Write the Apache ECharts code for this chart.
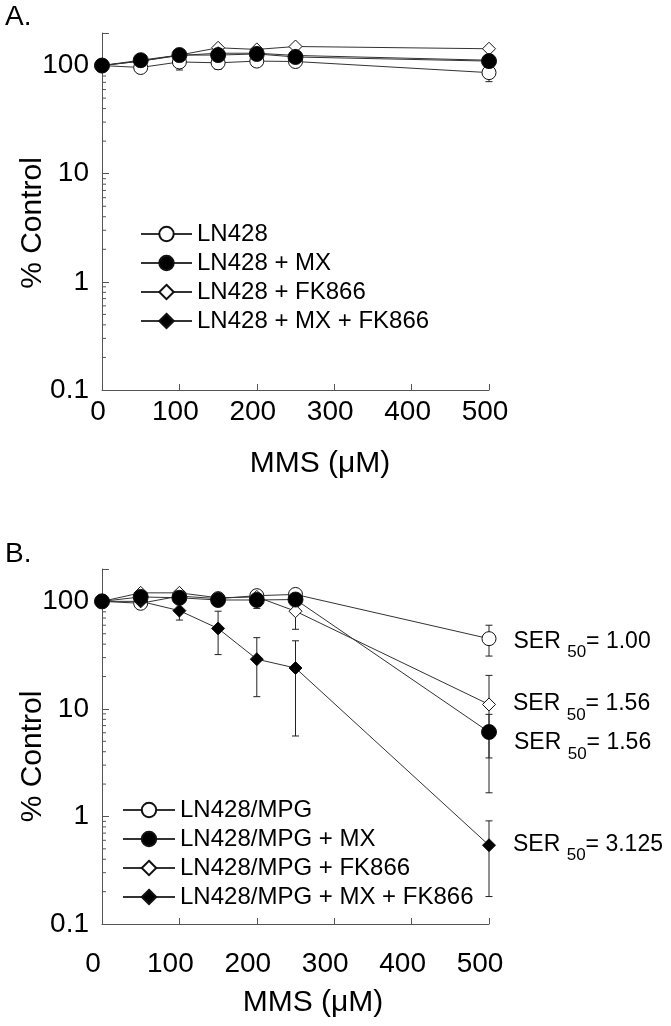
<!DOCTYPE html>
<html><head><meta charset="utf-8">
<script src="https://cdn.jsdelivr.net/npm/echarts@6/dist/echarts.min.js"></script>
<style>html,body{margin:0;padding:0;background:#fff}#c{width:671px;height:1026px}</style>
</head><body><div id="c"></div>
<script>
// ---------- data ----------
const doses = [0, 50, 100, 150, 200, 250, 500];
const xTicks = [0, 100, 200, 300, 400, 500];
const yTickLabels = [0.1, 1, 10, 100];
const xTitle = 'MMS (\u03bcM)';
const yTitle = '% Control';

const namesA = ['LN428', 'LN428 + MX', 'LN428 + FK866', 'LN428 + MX + FK866'];
const a_ln428 = [100, 96, 108, 106, 110, 109, 86];
const a_mx    = [100, 112, 125, 125, 128, 120, 110];
const a_fk    = [100, 110, 125, 146, 141, 150, 143];
const a_mxfk  = [100, 110, 124, 130, 130, 124, 112];
const a_err_ln428 = [[100, 91, 118], [150, 92, 120], [200, 98, 122], [250, 98, 120], [500, 71, 105]];
const a_err_mx    = [];
const a_err_fk    = [];
const a_err_mxfk  = [];

const namesB = ['LN428/MPG', 'LN428/MPG + MX', 'LN428/MPG + FK866', 'LN428/MPG + MX + FK866'];
const b_mpg  = [100, 96, 112, 106, 113, 116, 45];
const b_mx   = [100, 110, 108, 103, 103, 104, 6.1];
const b_fk   = [100, 120, 120, 108, 110, 81, 11];
const b_mxfk = [100, 100, 82, 56, 29, 24, 0.54];
const b_err_mpg  = [[500, 31, 60]];
const b_err_mx   = [[200, 86, 118], [500, 1.66, 8.9]];
const b_err_fk   = [[250, 55, 104], [500, 3.5, 20.5]];
const b_err_mxfk = [[50, 93, 104], [100, 67, 94], [150, 32, 81], [200, 13, 46], [250, 5.6, 43], [500, 0.18, 0.91]];
const serLabels = ['1.00', '1.56', '1.56', '3.125'];   // SER50 for namesB order

// ---------- helpers ----------
const FONT = '"Liberation Sans", Arial, Helvetica, sans-serif';
const minorTicks = [];
[0.1, 1, 10].forEach(d => { for (let k = 2; k <= 9; k++) minorTicks.push(+(k * d).toPrecision(3)); });

function yLabelFmt(v) {
  const hit = yTickLabels.find(t => Math.abs(Math.log10(v) - Math.log10(t)) < 1e-6);
  return hit === undefined ? '' : String(hit);
}

function xAxisDef(gi, labelPad, nameGap, namePadL) {
  return {
    type: 'value', gridIndex: gi, min: xTicks[0], max: xTicks[xTicks.length - 1], interval: 100,
    axisLine: { onZero: false, lineStyle: { color: '#555', width: 1 } },
    axisTick: { inside: true, length: 6, lineStyle: { color: '#555' } },
    splitLine: { show: false },
    axisLabel: { color: '#000', fontSize: 28, fontFamily: FONT, margin: gi === 0 ? 8 : 26, padding: [0, labelPad, 0, 0] },
    name: xTitle, nameLocation: 'middle', nameGap: nameGap,
    nameTextStyle: { color: '#000', fontSize: 30, fontFamily: FONT, padding: [0, 0, 0, namePadL] }
  };
}
function yAxisDef(gi, namePadR) {
  return {
    type: 'log', logBase: 10, gridIndex: gi, min: 0.1, max: 200,
    axisLine: { show: true, lineStyle: { color: '#555', width: 1 } },
    axisTick: { show: true, inside: true, length: 7, lineStyle: { color: '#555' } },
    minorTick: { show: false },
    splitLine: { show: false },
    axisLabel: { color: '#000', fontSize: 28, fontFamily: FONT, margin: 13, formatter: yLabelFmt },
    name: yTitle, nameLocation: 'middle', nameGap: 54, nameMoveOverlap: false,
    nameTextStyle: { color: '#000', fontSize: 30, fontFamily: FONT, padding: [0, namePadR, 0, 0] }
  };
}

function lineSeries(name, ys, symbol, filled, gi, z, size, serText, serDy) {
  const last = doses.length - 1;
  const data = doses.map((x, i) => {
    if (serText && i === last) {
      return {
        value: [x, ys[i]],
        label: {
          show: true, position: 'right', distance: 17, offset: [0, serDy],
          formatter: '{a|SER }{s|50}{a|= ' + serText + '}',
          rich: {
            a: { fontSize: 23, fontFamily: FONT, color: '#000', verticalAlign: 'top', lineHeight: 24 },
            s: { fontSize: 17, fontFamily: FONT, color: '#000', verticalAlign: 'bottom', padding: [14, 0, 0, 0] }
          }
        }
      };
    }
    return [x, ys[i]];
  });
  return {
    type: 'line', name, xAxisIndex: gi, yAxisIndex: gi, data,
    symbol, symbolSize: size, showAllSymbol: true, z,
    lineStyle: { color: '#333', width: 1 },
    itemStyle: { color: filled ? '#000' : '#fff', borderColor: '#111', borderWidth: 1 },
    emphasis: { disabled: true }, silent: true, clip: false
  };
}

function errSeries(data, gi) {
  return {
    type: 'custom', xAxisIndex: gi, yAxisIndex: gi, data, z: 1, silent: true, clip: false,
    encode: { x: 0, y: [1, 2] },
    renderItem(params, api) {
      const x = api.value(0), lo = api.value(1), hi = api.value(2);
      const p1 = api.coord([x, lo]), p2 = api.coord([x, hi]);
      const w = 3.5, st = { stroke: '#222', lineWidth: 1 };
      return { type: 'group', children: [
        { type: 'line', shape: { x1: p1[0], y1: p1[1], x2: p2[0], y2: p2[1] }, style: st },
        { type: 'line', shape: { x1: p1[0] - w, y1: p1[1], x2: p1[0] + w, y2: p1[1] }, style: st },
        { type: 'line', shape: { x1: p2[0] - w, y1: p2[1], x2: p2[0] + w, y2: p2[1] }, style: st }
      ]};
    }
  };
}

function minorTickSeries(gi) {
  return {
    type: 'custom', xAxisIndex: gi, yAxisIndex: gi, data: minorTicks.map(v => [xTicks[0], v]),
    z: 0, silent: true, clip: false, encode: { x: 0, y: 1 },
    renderItem(params, api) {
      const p = api.coord([api.value(0), api.value(1)]);
      return { type: 'line', shape: { x1: p[0], y1: p[1], x2: p[0] + 4, y2: p[1] }, style: { stroke: '#555', lineWidth: 1 } };
    }
  };
}

const legendCommon = {
  orient: 'vertical', itemGap: 5, itemHeight: 18,
  textStyle: { color: '#000', fontSize: 24, fontFamily: FONT, lineHeight: 24 },
  selectedMode: false
};

const option = {
  animation: false,
  backgroundColor: '#fff',
  grid: [
    { left: 102, top: 33, width: 387, height: 357 },
    { left: 102, top: 569, width: 387, height: 355 }
  ],
  xAxis: [xAxisDef(0, 8, 59, 49), xAxisDef(1, 18, 64, 35)],
  yAxis: [yAxisDef(0, 23), yAxisDef(1, 20)],
  legend: [
    Object.assign({ left: 135, top: 217, itemWidth: 51, data: namesA }, legendCommon),
    Object.assign({ left: 117, top: 793, itemWidth: 52, data: namesB }, legendCommon)
  ],
  graphic: [
    { type: 'text', left: 5, top: 3, style: { text: 'A.', fontSize: 28, fontFamily: FONT, fill: '#000' } },
    { type: 'text', left: 5, top: 540, style: { text: 'B.', fontSize: 28, fontFamily: FONT, fill: '#000' } }
  ],
  series: [
    minorTickSeries(0), minorTickSeries(1),
    errSeries(a_err_ln428, 0), errSeries(a_err_mx, 0), errSeries(a_err_fk, 0), errSeries(a_err_mxfk, 0),
    lineSeries(namesA[0], a_ln428, 'circle', false, 0, 3, 14),
    lineSeries(namesA[2], a_fk, 'diamond', false, 0, 4, 13),
    lineSeries(namesA[3], a_mxfk, 'diamond', true, 0, 5, 13),
    lineSeries(namesA[1], a_mx, 'circle', true, 0, 6, 15),
    errSeries(b_err_mpg, 1), errSeries(b_err_mx, 1), errSeries(b_err_fk, 1), errSeries(b_err_mxfk, 1),
    lineSeries(namesB[0], b_mpg, 'circle', false, 1, 3, 14, serLabels[0], 7),
    lineSeries(namesB[2], b_fk, 'diamond', false, 1, 4, 13, serLabels[2], 3.5),
    lineSeries(namesB[3], b_mxfk, 'diamond', true, 1, 5, 13, serLabels[3], 3),
    lineSeries(namesB[1], b_mx, 'circle', true, 1, 6, 15, serLabels[1], 15)
  ]
};

const chart = echarts.init(document.getElementById('c'), null, { renderer: 'canvas' });
chart.setOption(option);
</script>
</body></html>
